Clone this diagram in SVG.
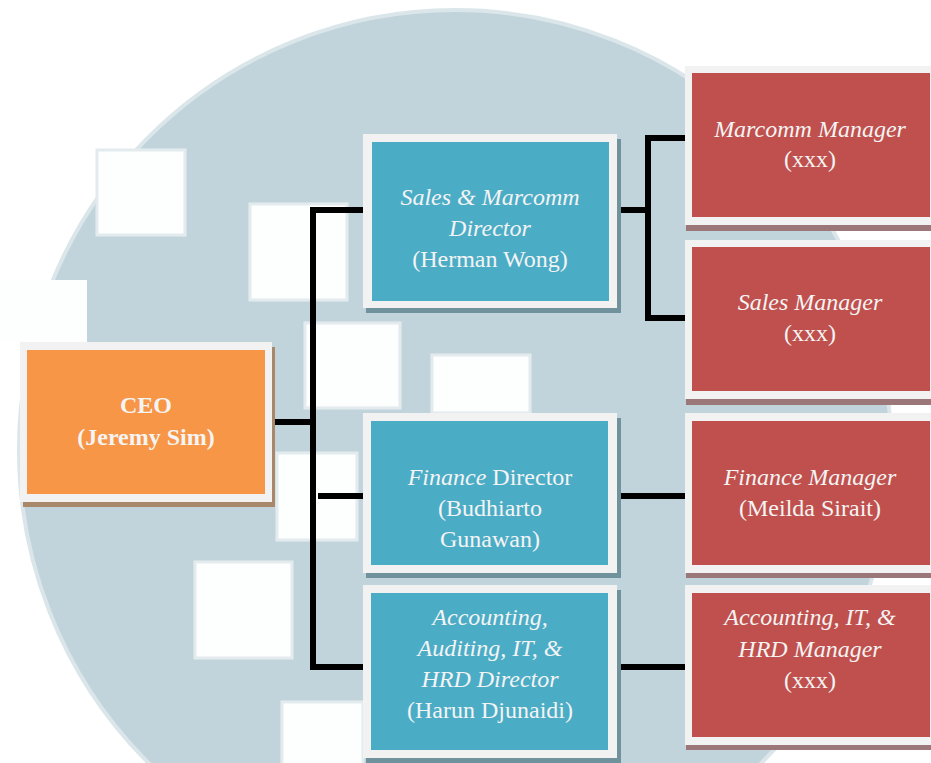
<svg xmlns="http://www.w3.org/2000/svg" width="931" height="763" viewBox="0 0 931 763">
<style>
.frame{fill:#f2f2f2}
.sb{fill:#6f929d}
.sr{fill:#9c7779}
.so{fill:#a8876a}
.ceo{fill:#f79646}
.dir{fill:#4bacc6}
.mgr{fill:#c0504d}
.wsq{fill:#fdfefe;stroke:#e3ebee;stroke-width:3}
text{font-family:"Liberation Serif","Times New Roman",serif;font-size:24px;fill:#f4f4f4;text-anchor:middle}
.i{font-style:italic}
.b{font-weight:bold}
.ln{stroke:#000;stroke-width:6;fill:none;stroke-linecap:square}
</style>
<rect x="0" y="0" width="931" height="763" fill="#ffffff"/>
<g id="background">
<ellipse cx="455" cy="450" rx="436" ry="440" fill="#c2d4db" stroke="#dbe6ea" stroke-width="4"/>
<rect class="wsq" x="97" y="150" width="88" height="85"/>
<rect x="0" y="280" width="87" height="62" fill="#fdfefe"/>
<rect class="wsq" x="250" y="204" width="97" height="96"/>
<rect class="wsq" x="305" y="323" width="95" height="85"/>
<rect class="wsq" x="277" y="453" width="80" height="87"/>
<rect class="wsq" x="195" y="562" width="97" height="96"/>
<rect class="wsq" x="282" y="702" width="81" height="64"/>
<rect class="wsq" x="432" y="355" width="98" height="58"/>
</g>
<g id="connectors">
<line class="ln" x1="276" y1="422" x2="313" y2="422"/>
<polyline class="ln" points="362,210 313,210 313,667 362,667"/>
<line class="ln" x1="321" y1="496" x2="362" y2="496"/>
<line class="ln" x1="614" y1="210" x2="645" y2="210"/>
<polyline class="ln" points="685,138 648,138 648,318 684,318"/>
<line class="ln" x1="619" y1="496" x2="684" y2="496"/>
<line class="ln" x1="619" y1="667" x2="684" y2="667"/>
</g>
<g id="ceo">
<rect class="so" x="23" y="347" width="252" height="160"/>
<rect class="frame" x="20" y="342" width="252" height="160"/>
<rect class="ceo" x="27" y="350" width="238" height="144"/>
<text class="b" x="146" y="413">CEO</text>
<text class="b" x="146" y="445">(Jeremy Sim)</text>
</g>
<g id="sales-director">
<rect class="sb" x="366" y="139" width="255" height="174"/>
<rect class="frame" x="363" y="134" width="254" height="174"/>
<rect class="dir" x="372" y="142" width="237" height="159"/>
<text class="i" x="490" y="205">Sales &amp; Marcomm</text>
<text class="i" x="490" y="236">Director</text>
<text x="490" y="267">(Herman Wong)</text>
</g>
<g id="finance-director">
<rect class="sb" x="366" y="418" width="255" height="160"/>
<rect class="frame" x="363" y="413" width="254" height="160"/>
<rect class="dir" x="371" y="421" width="237" height="144"/>
<text x="490" y="485"><tspan class="i">Finance</tspan> Director</text>
<text x="490" y="516">(Budhiarto</text>
<text x="490" y="547">Gunawan)</text>
</g>
<g id="accounting-director">
<rect class="sb" x="366" y="590" width="255" height="173"/>
<rect class="frame" x="363" y="585" width="254" height="173"/>
<rect class="dir" x="371" y="593" width="237" height="157"/>
<text class="i" x="490" y="625">Accounting,</text>
<text class="i" x="490" y="656">Auditing, IT, &amp;</text>
<text class="i" x="490" y="687">HRD Director</text>
<text x="490" y="718">(Harun Djunaidi)</text>
</g>
<g id="marcomm-manager">
<rect class="sr" x="686" y="71" width="250" height="160"/>
<rect class="frame" x="685" y="66" width="250" height="159"/>
<rect class="mgr" x="692" y="73" width="238" height="144"/>
<text class="i" x="810" y="137">Marcomm Manager</text>
<text x="810" y="167">(xxx)</text>
</g>
<g id="sales-manager">
<rect class="sr" x="686" y="245" width="250" height="160"/>
<rect class="frame" x="685" y="240" width="250" height="159"/>
<rect class="mgr" x="692" y="247" width="238" height="144"/>
<text class="i" x="810" y="310">Sales Manager</text>
<text x="810" y="341">(xxx)</text>
</g>
<g id="finance-manager">
<rect class="sr" x="686" y="418" width="250" height="160"/>
<rect class="frame" x="685" y="413" width="250" height="160"/>
<rect class="mgr" x="692" y="421" width="238" height="144"/>
<text class="i" x="810" y="485">Finance Manager</text>
<text x="810" y="516">(Meilda Sirait)</text>
</g>
<g id="accounting-manager">
<rect class="sr" x="686" y="590" width="250" height="160"/>
<rect class="frame" x="685" y="585" width="250" height="160"/>
<rect class="mgr" x="692" y="593" width="238" height="144"/>
<text class="i" x="810" y="625">Accounting, IT, &amp;</text>
<text class="i" x="810" y="657">HRD Manager</text>
<text x="810" y="688">(xxx)</text>
</g>
</svg>
